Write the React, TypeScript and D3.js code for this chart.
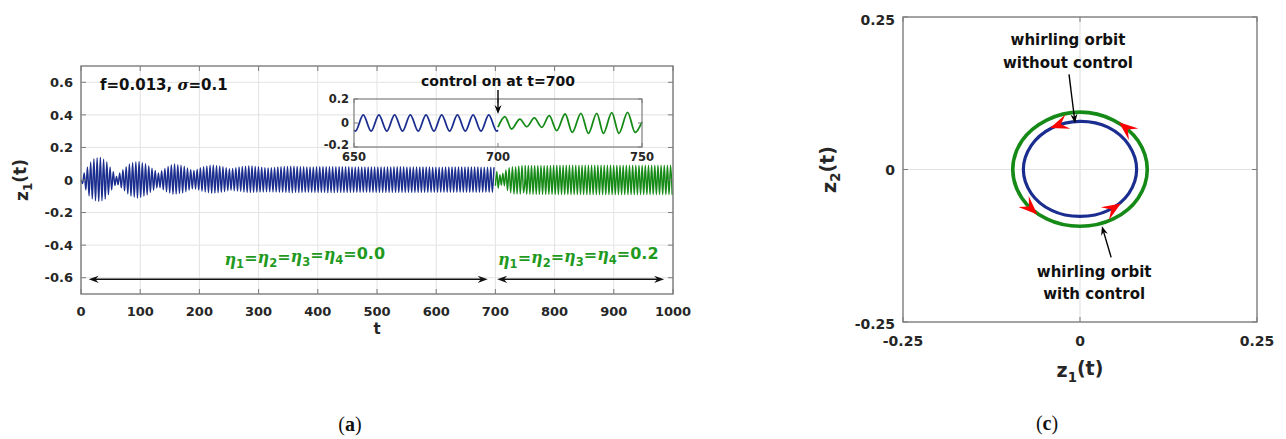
import React from "react";
import * as d3 from "d3";

// ---------- (a) z1(t) time history ----------
// Envelope of the fast oscillation before the controller is switched on (t <= 700)
const BLUE_ENV_T = [0, 5, 14, 22, 32, 42, 50, 60, 70, 82, 97, 112, 131, 143, 156, 172, 190, 205, 221, 237, 252, 268, 283, 298, 314, 334, 354, 380, 420, 480, 540, 600, 660, 700];
const BLUE_ENV_UP = [0, 0.04, 0.1, 0.13, 0.14, 0.12, 0.075, 0.022, 0.06, 0.1, 0.116, 0.095, 0.042, 0.075, 0.1, 0.088, 0.057, 0.08, 0.094, 0.085, 0.067, 0.08, 0.088, 0.082, 0.073, 0.08, 0.085, 0.08, 0.082, 0.08, 0.081, 0.079, 0.08, 0.078];
const BLUE_ENV_LO = [0, -0.04, -0.1, -0.125, -0.133, -0.115, -0.07, -0.02, -0.055, -0.095, -0.112, -0.09, -0.041, -0.07, -0.088, -0.08, -0.051, -0.07, -0.082, -0.076, -0.062, -0.07, -0.078, -0.075, -0.072, -0.075, -0.078, -0.076, -0.077, -0.076, -0.077, -0.076, -0.076, -0.075];
const BLUE_HALF_PERIOD = 2.725;

// Controlled response envelope after the transient (t >= 750)
const GREEN_ENV_T = [750, 800, 850, 900, 950, 1000];
const GREEN_ENV_UP = [0.089, 0.09, 0.091, 0.09, 0.09, 0.09];
const GREEN_ENV_LO = [-0.088, -0.09, -0.09, -0.091, -0.09, -0.09];
const GREEN_HALF_PERIOD = 2.67;
const GREEN_STEADY_START = 750.3;

// Zoomed window 650..750: successive extrema of z1
const BLUE_INSET_T = [650, 650.5, 653.2, 655.95, 658.65, 661.4, 664.1, 666.85, 669.55, 672.3, 675.0, 677.75, 680.45, 683.2, 685.9, 688.65, 691.35, 694.1, 696.8, 699.55, 700];
const BLUE_INSET_V = [-0.06, -0.068, 0.068, -0.068, 0.068, -0.068, 0.068, -0.068, 0.068, -0.068, 0.068, -0.068, 0.068, -0.068, 0.068, -0.068, 0.068, -0.068, 0.068, -0.068, -0.06];
const GREEN_INSET_T = [700, 702.4, 704.7, 707.6, 710.0, 712.6, 715.2, 717.8, 720.4, 723.3, 725.8, 728.8, 731.4, 734.3, 736.6, 739.5, 742.0, 745.0, 747.6, 750];
const GREEN_INSET_V = [-0.035, 0.053, -0.05, 0.033, -0.031, 0.042, -0.036, 0.061, -0.064, 0.075, -0.078, 0.081, -0.086, 0.081, -0.086, 0.086, -0.086, 0.089, -0.078, 0.01];

const MAIN_X_TICKS = [0, 100, 200, 300, 400, 500, 600, 700, 800, 900, 1000];
const MAIN_Y_TICKS = [-0.6, -0.4, -0.2, 0, 0.2, 0.4, 0.6];
const INSET_X_TICKS = [650, 700, 750];
const INSET_Y_TICKS = [-0.2, 0, 0.2];

// ---------- (c) whirling orbits in the (z1, z2) plane ----------
const BLUE_ORBIT_Z1 = [0.08, 0.069, 0.04, 0.0, -0.04, -0.069, -0.08, -0.069, -0.04, 0.0, 0.04, 0.069];
const BLUE_ORBIT_Z2 = [0.0, 0.04, 0.069, 0.079, 0.068, 0.039, 0.0, -0.039, -0.067, -0.077, -0.067, -0.039];
const GREEN_ORBIT_Z1 = [0.095, 0.082, 0.047, 0.0, -0.047, -0.082, -0.095, -0.082, -0.047, 0.0, 0.047, 0.082];
const GREEN_ORBIT_Z2 = [0.0, 0.047, 0.081, 0.094, 0.081, 0.047, 0.0, -0.047, -0.081, -0.093, -0.081, -0.047];
const BLUE_ARROW_ANGLES = [112, -54];
const GREEN_ARROW_ANGLES = [46, -138];
const ORBIT_TICKS = [-0.25, 0, 0.25];

const BLUE = "#1b2e8f";
const GREEN = "#168a16";
const LABEL_GREEN = "#1f9a1f";
const FRAME = "#7d7d7d";
const GRID = "#e3e3e3";
const INK = "#262626";
const FONT = "'DejaVu Sans', 'Liberation Sans', Arial, sans-serif";

const xMain = d3.scaleLinear().domain([0, 1000]).range([81, 673]);
const yMain = d3.scaleLinear().domain([-0.7, 0.7]).range([294, 66]);
const xIn = d3.scaleLinear().domain([650, 750]).range([354, 642]);
const yIn = d3.scaleLinear().domain([-0.2, 0.2]).range([147, 99]);
const xR = d3.scaleLinear().domain([-0.25, 0.25]).range([903, 1257]);
const yR = d3.scaleLinear().domain([-0.25, 0.25]).range([322, 17]);

type Pt = [number, number];

// Alternating extrema of a fast oscillation bounded by an upper/lower envelope
function extremaFromEnvelope(t0: number, t1: number, half: number, envT: number[], envUp: number[], envLo: number[]): Pt[] {
  const up = d3.scaleLinear().domain(envT).range(envUp).clamp(true);
  const lo = d3.scaleLinear().domain(envT).range(envLo).clamp(true);
  const pts: Pt[] = [];
  for (let k = 0; t0 + k * half <= t1; k++) {
    const t = t0 + k * half;
    pts.push([t, k % 2 === 0 ? up(t) : lo(t)]);
  }
  return pts;
}

function arrowHead(tx: number, ty: number, dx: number, dy: number, L: number, W: number, notch = 0.68): string {
  const n = Math.hypot(dx, dy);
  const ux = dx / n, uy = dy / n;
  const px = -uy, py = ux;
  const bx = tx - L * ux, by = ty - L * uy;
  const nx = tx - notch * L * ux, ny = ty - notch * L * uy;
  return `M${tx},${ty}L${bx + W * px},${by + W * py}L${nx},${ny}L${bx - W * px},${by - W * py}Z`;
}

function Arrow({ x1, y1, x2, y2, L = 10, W = 4, color = "#000", sw = 1.4 }: any) {
  const n = Math.hypot(x2 - x1, y2 - y1);
  const ex = x2 - ((x2 - x1) / n) * L * 0.6;
  const ey = y2 - ((y2 - y1) / n) * L * 0.6;
  return (
    <g>
      <line x1={x1} y1={y1} x2={ex} y2={ey} stroke={color} strokeWidth={sw} />
      <path d={arrowHead(x2, y2, x2 - x1, y2 - y1, L, W)} fill={color} />
    </g>
  );
}

function DoubleArrow({ t1, t2, v }: { t1: number; t2: number; v: number }) {
  const y = yMain(v);
  const a = xMain(t1), b = xMain(t2);
  const L = 10, W = 3.6;
  return (
    <g>
      <line x1={a + L * 0.6} y1={y} x2={b - L * 0.6} y2={y} stroke="#111" strokeWidth={1.5} />
      <path d={arrowHead(a, y, -1, 0, L, W)} fill="#111" />
      <path d={arrowHead(b, y, 1, 0, L, W)} fill="#111" />
    </g>
  );
}

function EtaLabel({ x, y, value }: { x: number; y: number; value: string }) {
  const parts: any[] = [];
  [1, 2, 3, 4].forEach((i) => {
    parts.push(
      <tspan key={`e${i}`} fontStyle="italic" fontFamily="'DejaVu Serif', serif" fontWeight="bold">η</tspan>
    );
    parts.push(
      <tspan key={`s${i}`} fontSize="0.72em" dy="0.32em">{i}</tspan>
    );
    parts.push(
      <tspan key={`q${i}`} dy="-0.32em" fontSize="1em">=</tspan>
    );
  });
  parts.push(<tspan key="v">{value}</tspan>);
  return (
    <text x={x} y={y} textAnchor="middle" fill={LABEL_GREEN} fontFamily={FONT} fontWeight="bold" fontSize={16}>
      {parts}
    </text>
  );
}

export default function App() {
  const mainLine = d3.line<Pt>().x((d) => xMain(d[0])).y((d) => yMain(d[1])).curve(d3.curveMonotoneX);
  const insetLine = d3.line<Pt>().x((d) => xIn(d[0])).y((d) => yIn(d[1])).curve(d3.curveMonotoneX);
  const orbitLine = d3.line<Pt>().x((d) => xR(d[0])).y((d) => yR(d[1])).curve(d3.curveCatmullRomClosed);

  const blueMain = extremaFromEnvelope(0, 700, BLUE_HALF_PERIOD, BLUE_ENV_T, BLUE_ENV_UP, BLUE_ENV_LO);
  const greenTransient: Pt[] = GREEN_INSET_T.map((t, i) => [t, GREEN_INSET_V[i]]);
  const greenMain = greenTransient.concat(
    extremaFromEnvelope(GREEN_STEADY_START, 1000, GREEN_HALF_PERIOD, GREEN_ENV_T, GREEN_ENV_UP, GREEN_ENV_LO)
  );
  const blueInset: Pt[] = BLUE_INSET_T.map((t, i) => [t, BLUE_INSET_V[i]]);

  const blueOrbit: Pt[] = BLUE_ORBIT_Z1.map((z, i) => [z, BLUE_ORBIT_Z2[i]]);
  const greenOrbit: Pt[] = GREEN_ORBIT_Z1.map((z, i) => [z, GREEN_ORBIT_Z2[i]]);

  const orbitArrows = (orbit: Pt[], angles: number[]) => {
    const r = d3.mean(orbit, (p) => Math.hypot(p[0], p[1])) as number;
    return angles.map((deg) => {
      const a = (deg * Math.PI) / 180;
      const b = ((deg + 1) * Math.PI) / 180;
      const cx = xR(r * Math.cos(a)), cy = yR(r * Math.sin(a));
      const dx = xR(r * Math.cos(b)) - cx, dy = yR(r * Math.sin(b)) - cy;
      const n = Math.hypot(dx, dy);
      const L = 19;
      const tx = cx + (dx / n) * L * 0.5, ty = cy + (dy / n) * L * 0.5;
      return arrowHead(tx, ty, dx, dy, L, 7.5, 0.6);
    });
  };

  const tickLen = 5;
  const [mx0, mx1] = xMain.range();
  const [my0, my1] = yMain.range();
  const [ix0, ix1] = xIn.range();
  const [iy0, iy1] = yIn.range();
  const [rx0, rx1] = xR.range();
  const [ry0, ry1] = yR.range();

  return (
    <svg width={1286} height={439} viewBox="0 0 1286 439" style={{ display: "block", position: "absolute", left: 0, top: 0, background: "#fff" }}>
      <rect x={0} y={0} width={1286} height={439} fill="#fff" />

      {/* ===== (a) time history ===== */}
      <g>
        {MAIN_X_TICKS.map((t) => (
          <line key={`gx${t}`} x1={xMain(t)} x2={xMain(t)} y1={my1} y2={my0} stroke={GRID} strokeWidth={1} />
        ))}
        {MAIN_Y_TICKS.map((v) => (
          <line key={`gy${v}`} x1={mx0} x2={mx1} y1={yMain(v)} y2={yMain(v)} stroke={GRID} strokeWidth={1} />
        ))}

        <path d={mainLine(blueMain) || ""} fill="none" stroke={BLUE} strokeWidth={1.45} />
        <path d={mainLine(greenMain) || ""} fill="none" stroke={GREEN} strokeWidth={1.45} />

        {MAIN_X_TICKS.map((t) => (
          <g key={`tx${t}`}>
            <line x1={xMain(t)} x2={xMain(t)} y1={my0} y2={my0 - tickLen} stroke={FRAME} strokeWidth={1} />
            <line x1={xMain(t)} x2={xMain(t)} y1={my1} y2={my1 + tickLen} stroke={FRAME} strokeWidth={1} />
            <text x={xMain(t)} y={my0 + 22} textAnchor="middle" fontFamily={FONT} fontWeight="bold" fontSize={13} fill={INK}>{t}</text>
          </g>
        ))}
        {MAIN_Y_TICKS.map((v) => (
          <g key={`ty${v}`}>
            <line x1={mx0} x2={mx0 + tickLen} y1={yMain(v)} y2={yMain(v)} stroke={FRAME} strokeWidth={1} />
            <line x1={mx1} x2={mx1 - tickLen} y1={yMain(v)} y2={yMain(v)} stroke={FRAME} strokeWidth={1} />
            <text x={mx0 - 8} y={yMain(v)} dy="0.36em" textAnchor="end" fontFamily={FONT} fontWeight="bold" fontSize={13} fill={INK}>{v === 0 ? "0" : d3.format(".1f")(v).replace("−", "-")}</text>
          </g>
        ))}
        <rect x={mx0} y={my1} width={mx1 - mx0} height={my0 - my1} fill="none" stroke={FRAME} strokeWidth={1.4} />

        {/* axis labels */}
        <text x={xMain(500)} y={my0 + 40} textAnchor="middle" fontFamily={FONT} fontWeight="bold" fontSize={15} fill={INK}>t</text>
        <text transform={`translate(22,${yMain(0)}) rotate(-90)`} textAnchor="middle" dy="0.35em" fontFamily={FONT} fontWeight="bold" fontSize={17} fill={INK}>
          z<tspan fontSize="0.7em" dy="0.35em">1</tspan><tspan dy="-0.35em">(t)</tspan>
        </text>

        <text x={100} y={90} fontFamily={FONT} fontWeight="bold" fontSize={15} fill="#111">
          f=0.013, <tspan fontStyle="italic" fontFamily="'DejaVu Serif', serif">σ</tspan>=0.1
        </text>

        {/* regime arrows and parameter labels */}
        <DoubleArrow t1={13} t2={687} v={-0.61} />
        <DoubleArrow t1={703} t2={985} v={-0.61} />
        <EtaLabel x={xMain(378)} y={yMain(-0.52)} value="0.0" />
        <EtaLabel x={xMain(840)} y={yMain(-0.52)} value="0.2" />

        {/* inset 650..750 */}
        <path d={insetLine(blueInset) || ""} fill="none" stroke={BLUE} strokeWidth={1.8} />
        <path d={insetLine(greenTransient) || ""} fill="none" stroke={GREEN} strokeWidth={1.8} />
        {INSET_X_TICKS.map((t) => (
          <g key={`ix${t}`}>
            <line x1={xIn(t)} x2={xIn(t)} y1={iy0} y2={iy0 - 4} stroke={FRAME} strokeWidth={1} />
            <line x1={xIn(t)} x2={xIn(t)} y1={iy1} y2={iy1 + 4} stroke={FRAME} strokeWidth={1} />
            <text x={xIn(t)} y={iy0 + 14} textAnchor="middle" fontFamily={FONT} fontWeight="bold" fontSize={11.5} fill={INK}>{t}</text>
          </g>
        ))}
        {INSET_Y_TICKS.map((v) => (
          <g key={`iy${v}`}>
            <line x1={ix0} x2={ix0 + 4} y1={yIn(v)} y2={yIn(v)} stroke={FRAME} strokeWidth={1} />
            <line x1={ix1} x2={ix1 - 4} y1={yIn(v)} y2={yIn(v)} stroke={FRAME} strokeWidth={1} />
            <text x={ix0 - 5} y={yIn(v) - (v < 0 ? 2 : 0)} dy="0.36em" textAnchor="end" fontFamily={FONT} fontWeight="bold" fontSize={11.5} fill={INK}>{v === 0 ? "0" : d3.format(".1f")(v).replace("−", "-")}</text>
          </g>
        ))}
        <rect x={ix0} y={iy1} width={ix1 - ix0} height={iy0 - iy1} fill="none" stroke={FRAME} strokeWidth={1.2} />
        <text x={xIn(700)} y={86} textAnchor="middle" fontFamily={FONT} fontWeight="bold" fontSize={14} fill="#111">control on at t=700</text>
        <Arrow x1={xIn(700)} y1={90} x2={xIn(700)} y2={yIn(0.074)} L={9} W={3.5} sw={1.4} />
      </g>

      {/* ===== (c) orbits ===== */}
      <g>
        <line x1={xR(0)} x2={xR(0)} y1={ry1} y2={ry0} stroke={GRID} strokeWidth={1.2} />
        <line x1={rx0} x2={rx1} y1={yR(0)} y2={yR(0)} stroke={GRID} strokeWidth={1.2} />

        <path d={orbitLine(greenOrbit) || ""} fill="none" stroke={GREEN} strokeWidth={3.6} />
        <path d={orbitLine(blueOrbit) || ""} fill="none" stroke={BLUE} strokeWidth={3.2} />
        {orbitArrows(greenOrbit, GREEN_ARROW_ANGLES).map((d, i) => (
          <path key={`ga${i}`} d={d} fill="#ff0000" />
        ))}
        {orbitArrows(blueOrbit, BLUE_ARROW_ANGLES).map((d, i) => (
          <path key={`ba${i}`} d={d} fill="#ff0000" />
        ))}

        {ORBIT_TICKS.map((v) => (
          <g key={`rt${v}`}>
            <line x1={xR(v)} x2={xR(v)} y1={ry0} y2={ry0 - tickLen} stroke={FRAME} strokeWidth={1} />
            <line x1={xR(v)} x2={xR(v)} y1={ry1} y2={ry1 + tickLen} stroke={FRAME} strokeWidth={1} />
            <line x1={rx0} x2={rx0 + tickLen} y1={yR(v)} y2={yR(v)} stroke={FRAME} strokeWidth={1} />
            <line x1={rx1} x2={rx1 - tickLen} y1={yR(v)} y2={yR(v)} stroke={FRAME} strokeWidth={1} />
            <text x={xR(v)} y={ry0 + 24} textAnchor="middle" fontFamily={FONT} fontWeight="bold" fontSize={14} fill={INK}>{v === 0 ? "0" : String(v)}</text>
            <text x={rx0 - 8} y={yR(v) + (v === 0.25 ? 3 : v === -0.25 ? 2 : 0)} dy="0.36em" textAnchor="end" fontFamily={FONT} fontWeight="bold" fontSize={14} fill={INK}>{v === 0 ? "0" : String(v)}</text>
          </g>
        ))}
        <rect x={rx0} y={ry1} width={rx1 - rx0} height={ry0 - ry1} fill="none" stroke={FRAME} strokeWidth={1.4} />

        <text x={xR(0)} y={ry0 + 55} textAnchor="middle" fontFamily={FONT} fontWeight="bold" fontSize={19} fill={INK}>
          z<tspan fontSize="0.7em" dy="0.35em">1</tspan><tspan dy="-0.35em">(t)</tspan>
        </text>
        <text transform={`translate(829,${yR(0)}) rotate(-90)`} textAnchor="middle" dy="0.35em" fontFamily={FONT} fontWeight="bold" fontSize={19} fill={INK}>
          z<tspan fontSize="0.7em" dy="0.35em">2</tspan><tspan dy="-0.35em">(t)</tspan>
        </text>

        <g fontFamily={FONT} fontWeight="bold" fontSize={15} fill="#111" textAnchor="middle">
          <text x={xR(-0.017)} y={yR(0.213)} dy="0.35em">whirling orbit</text>
          <text x={xR(-0.017)} y={yR(0.175)} dy="0.35em">without control</text>
          <text x={xR(0.02)} y={yR(-0.167)} dy="0.35em">whirling orbit</text>
          <text x={xR(0.02)} y={yR(-0.204)} dy="0.35em">with control</text>
        </g>
        <Arrow x1={xR(-0.0155)} y1={yR(0.156)} x2={xR(-0.007)} y2={yR(0.076)} L={9} W={3.5} />
        <Arrow x1={xR(0.044)} y1={yR(-0.144)} x2={xR(0.031)} y2={yR(-0.093)} L={9} W={3.5} />
      </g>

      {/* panel captions */}
      <text x={350} y={431} textAnchor="middle" fontFamily="'Liberation Serif', 'DejaVu Serif', serif" fontSize={20} fill="#111">
        (<tspan fontWeight="bold">a</tspan>)
      </text>
      <text x={1047} y={430} textAnchor="middle" fontFamily="'Liberation Serif', 'DejaVu Serif', serif" fontSize={20} fill="#111">
        (<tspan fontWeight="bold">c</tspan>)
      </text>
    </svg>
  );
}
